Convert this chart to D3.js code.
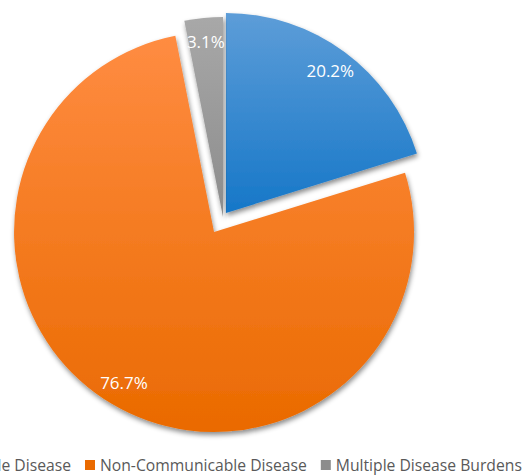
<!doctype html>
<html>
  <head>
    <script src="https://cdn.jsdelivr.net/npm/d3@7/dist/d3.min.js"></script>
    <style>
      body { margin: 0; background: #fff; }
      .label { fill: #fff; font-family: "Open Sans", sans-serif; font-size: 17px; }
      .legend text { fill: #595959; font-family: "Open Sans", sans-serif; font-size: 15.7px; }
    </style>
  </head>
  <body>
    <svg width="529" height="475"></svg>
    <script>
      var categories = ["Communicable Disease", "Non-Communicable Disease", "Multiple Disease Burdens"];
      var shares = [20.2, 76.7, 3.1];
      var labels = ["20.2%", "76.7%", "3.1%"];
      var explode = [5, 17.5, 0];
      var topColors = ["#5d9dd8", "#ff8c42", "#a8a8a8"];
      var bottomColors = ["#1677c8", "#ea6a00", "#8c8c8c"];

      var svg = d3.select("svg");
      var cx = 223, cy = 217, radius = 200;

      var defs = svg.append("defs");
      categories.forEach((c, i) => {
        var g = defs.append("linearGradient")
          .attr("id", "grad" + i)
          .attr("x1", 0).attr("y1", 0).attr("x2", 0).attr("y2", 1);
        g.append("stop").attr("offset", "0%").attr("stop-color", topColors[i]);
        g.append("stop").attr("offset", "100%").attr("stop-color", bottomColors[i]);
      });
      var shadow = defs.append("filter").attr("id", "shadow")
        .attr("x", "-10%").attr("y", "-10%").attr("width", "120%").attr("height", "120%");
      shadow.append("feDropShadow")
        .attr("dx", 1).attr("dy", 3).attr("stdDeviation", 2.5)
        .attr("flood-color", "#000").attr("flood-opacity", 0.45);

      var pie = d3.pie().sort(null).value(d => d);
      var arcs = pie(shares);
      var arc = d3.arc().innerRadius(0).outerRadius(radius);
      var labelArc = d3.arc().innerRadius(radius * 0.88).outerRadius(radius * 0.88);

      var offset = (d, i) => {
        var mid = (d.startAngle + d.endAngle) / 2;
        return [cx + explode[i] * Math.sin(mid), cy - explode[i] * Math.cos(mid)];
      };

      var slices = svg.selectAll("g.slice")
        .data(arcs)
        .enter()
        .append("g")
          .attr("class", "slice")
          .attr("transform", (d, i) => `translate(${offset(d, i)})`);

      slices.append("path")
        .attr("d", arc)
        .attr("fill", (d, i) => `url(#grad${i})`)
        .attr("filter", "url(#shadow)");

      slices.append("text")
        .attr("class", "label")
        .attr("text-anchor", "middle")
        .attr("dy", "0.35em")
        .attr("transform", d => `translate(${labelArc.centroid(d)})`)
        .text((d, i) => labels[i]);

      // legend, centred on a point left of the visible area (picture is cropped)
      var legend = svg.append("g").attr("class", "legend");
      var items = legend.selectAll("g")
        .data(categories)
        .enter()
        .append("g");
      items.append("rect")
        .attr("width", 10).attr("height", 10)
        .attr("y", -5)
        .attr("fill", (d, i) => bottomColors[i]);
      items.append("text")
        .attr("x", 15)
        .attr("dy", "0.35em")
        .text(d => d);
      var x = 0, xs = [];
      items.each(function () {
        xs.push(x);
        x += 15 + this.querySelector("text").getComputedTextLength() + 14;
      });
      var shift = 85 - xs[1];
      items.attr("transform", (d, i) => `translate(${xs[i] + shift},465)`);
    </script>
  </body>
</html>
